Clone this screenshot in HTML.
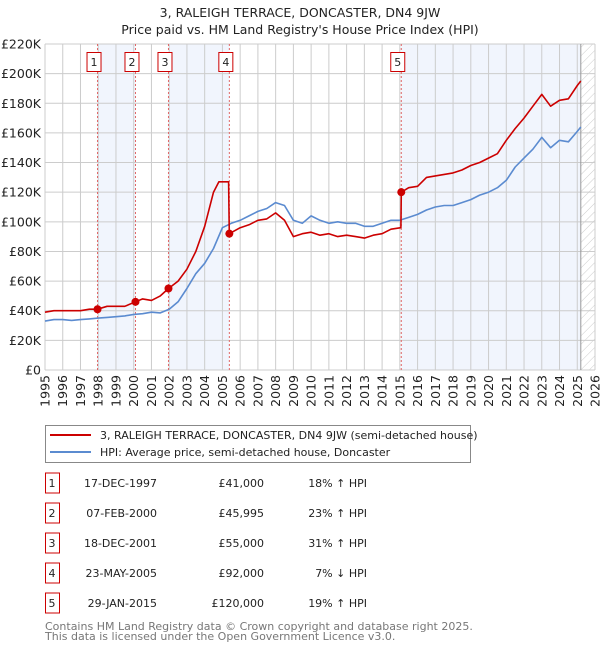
<!DOCTYPE html>
<html><head><meta charset="utf-8">
<style>
body{margin:0;background:#fff;font-family:"Liberation Sans","DejaVu Sans",sans-serif;}
svg text{font-family:"DejaVu Sans","Liberation Sans",sans-serif;}
</style></head>
<body>
<svg id="chart" width="600" height="650" viewBox="0 0 600 650" xmlns="http://www.w3.org/2000/svg">
<text x="300" y="17" text-anchor="middle" font-size="12.5" fill="#222">3, RALEIGH TERRACE, DONCASTER, DN4 9JW</text>
<text x="300" y="34" text-anchor="middle" font-size="12.5" fill="#222">Price paid vs. HM Land Registry's House Price Index (HPI)</text>
<g id="plot"></g>
<g>
<rect x="45.5" y="425.5" width="425" height="37" fill="#fff" stroke="#888"/>
<line x1="50" y1="435" x2="91" y2="435" stroke="#cc0000" stroke-width="2"/>
<text x="100" y="439" font-size="11" fill="#222">3, RALEIGH TERRACE, DONCASTER, DN4 9JW (semi-detached house)</text>
<line x1="50" y1="452" x2="91" y2="452" stroke="#5b8bd0" stroke-width="2"/>
<text x="100" y="456" font-size="11" fill="#222">HPI: Average price, semi-detached house, Doncaster</text>
</g>
<g id="table"></g>
<text x="45" y="630" font-size="11" fill="#777">Contains HM Land Registry data © Crown copyright and database right 2025.</text>
<text x="45" y="640" font-size="11" fill="#777">This data is licensed under the Open Government Licence v3.0.</text>
</svg>
<script>
const hpiYears=[1995,1995.5,1996,1996.5,1997,1997.5,1998,1998.5,1999,1999.5,2000,2000.5,2001,2001.5,2002,2002.5,2003,2003.5,2004,2004.5,2005,2005.5,2006,2006.5,2007,2007.5,2008,2008.5,2009,2009.5,2010,2010.5,2011,2011.5,2012,2012.5,2013,2013.5,2014,2014.5,2015,2015.5,2016,2016.5,2017,2017.5,2018,2018.5,2019,2019.5,2020,2020.5,2021,2021.5,2022,2022.5,2023,2023.5,2024,2024.5,2025,2025.2];
const hpiValues=[33,34,34,33.5,34,34.5,35,35.5,36,36.5,37.5,38,39,38.5,41,46,55,65,72,82,96,99,101,104,107,109,113,111,101,99,104,101,99,100,99,99,97,97,99,101,101,103,105,108,110,111,111,113,115,118,120,123,128,137,143,149,157,150,155,154,161,164];
const priceYears=[1995,1995.5,1996,1996.5,1997,1997.5,1997.96,1998.5,1999,1999.5,2000.1,2000.5,2001,2001.5,2001.96,2002.5,2003,2003.5,2004,2004.5,2004.8,2005.35,2005.39,2006,2006.5,2007,2007.5,2008,2008.5,2009,2009.5,2010,2010.5,2011,2011.5,2012,2012.5,2013,2013.5,2014,2014.5,2015.06,2015.08,2015.5,2016,2016.5,2017,2017.5,2018,2018.5,2019,2019.5,2020,2020.5,2021,2021.5,2022,2022.5,2023,2023.5,2024,2024.5,2025,2025.2];
const priceValues=[39,40,40,40,40,41,41,43,43,43,46,48,47,50,55,60,68,80,97,120,127,127,92,96,98,101,102,106,101,90,92,93,91,92,90,91,90,89,91,92,95,96,120,123,124,130,131,132,133,135,138,140,143,146,155,163,170,178,186,178,182,183,192,195];
const saleLabels=["1","2","3","4","5"];
const saleYears=[1997.96,2000.1,2001.96,2005.39,2015.08];
const saleValues=[41,45.995,55,92,120];
const saleDates=["17-DEC-1997","07-FEB-2000","18-DEC-2001","23-MAY-2005","29-JAN-2015"];
const salePrices=["£41,000","£45,995","£55,000","£92,000","£120,000"];
const saleHpi=["18% ↑ HPI","23% ↑ HPI","31% ↑ HPI","7% ↓ HPI","19% ↑ HPI"];
const yTicks=[0,20,40,60,80,100,120,140,160,180,200,220];
const xTicks=[1995,1996,1997,1998,1999,2000,2001,2002,2003,2004,2005,2006,2007,2008,2009,2010,2011,2012,2013,2014,2015,2016,2017,2018,2019,2020,2021,2022,2023,2024,2025,2026];
const dataEnd=2025.2;

const NS="http://www.w3.org/2000/svg";
const L=45,R=595,T=44,B=370;
const xs=y=>L+(y-1995)/(2026-1995)*(R-L);
const ys=v=>B-v/220*(B-T);
const plot=document.getElementById('plot');
function mk(tag,attrs,parent){const e=document.createElementNS(NS,tag);for(const k in attrs)e.setAttribute(k,attrs[k]);(parent||plot).appendChild(e);return e;}

for(let i=0;i<saleYears.length;i+=2){
  const x0=xs(saleYears[i]);const x1=i+1<saleYears.length?xs(saleYears[i+1]):xs(dataEnd);
  const r=mk('rect',{x:x0,y:T,width:x1-x0,height:B-T,fill:'#eef3fc',opacity:0.8});
  
  
}
const defs=mk('defs',{});
const pat=mk('pattern',{id:'hatch',width:6,height:6,patternUnits:'userSpaceOnUse',patternTransform:'rotate(45)'},defs);
mk('line',{x1:0,y1:0,x2:0,y2:6,stroke:'#ccc','stroke-width':1},pat);
const hr=mk('rect',{x:xs(dataEnd),y:T,width:R-xs(dataEnd),height:B-T,fill:'url(#hatch)'});


yTicks.forEach(v=>{
  const g=mk('line',{x1:L,x2:R,y1:ys(v),y2:ys(v),stroke:'#ccc','stroke-width':1});
  
  
  const t=mk('text',{x:L-4,y:ys(v)+4.5,'text-anchor':'end','font-size':12.5,fill:'#222'});
  t.textContent='£'+(v===0?'0':v+'K');
  
  
});
xTicks.forEach(y=>{
  const g=mk('line',{x1:xs(y),x2:xs(y),y1:T,y2:B,stroke:'#ccc','stroke-width':1});
  
  
  const t=mk('text',{x:0,y:0,'text-anchor':'end','font-size':12.5,fill:'#222',transform:`translate(${xs(y)+4.5},${B+5}) rotate(-90)`});
  t.textContent=y;
  
  
});
const el=mk('line',{x1:xs(dataEnd),x2:xs(dataEnd),y1:T,y2:B,stroke:'#999','stroke-width':1});


saleYears.forEach((y,i)=>{
  const l=mk('line',{x1:xs(y),x2:xs(y),y1:T,y2:B,stroke:'#e06666','stroke-width':1,'stroke-dasharray':'2,2'});
  
  
  const bx=mk('rect',{x:xs(y)-10.5,y:52.5,width:14,height:19,fill:'#fff',stroke:'#cc0000'});
  
  
  const t=mk('text',{x:xs(y)-3.5,y:66,'text-anchor':'middle','font-size':11,fill:'#222'});
  t.textContent=saleLabels[i];
  
  
});
function line(xsArr,vals,color,name){
  const d=xsArr.map((y,i)=>(i?'L':'M')+xs(y).toFixed(1)+','+ys(vals[i]).toFixed(1)).join('');
  const p=mk('path',{d:d,fill:'none',stroke:color,'stroke-width':1.6,'stroke-linejoin':'round'});
  
  
}
line(hpiYears,hpiValues,'#5b8bd0','hpi-line');
line(priceYears,priceValues,'#cc0000','price-paid-line');
saleYears.forEach((y,i)=>{
  const c=mk('circle',{cx:xs(y),cy:ys(saleValues[i]),r:4,fill:'#cc0000'});
  
  
});
const tbl=document.getElementById('table');
saleLabels.forEach((lab,i)=>{
  const cy=483+i*30;
  const b=mk('rect',{x:45.5,y:cy-10,width:14,height:20,fill:'#fff',stroke:'#cc0000'},tbl);
  
  
  const cells=[[lab,52,'middle'],[saleDates[i],157,'end'],[salePrices[i],264,'end'],[saleHpi[i],367,'end']];
  cells.forEach((c,j)=>{
    const t=mk('text',{x:c[1],y:cy+4,'text-anchor':c[2],'font-size':11,fill:'#222'},tbl);
    t.textContent=c[0];
    
    
  });
});
</script>
</body></html>
